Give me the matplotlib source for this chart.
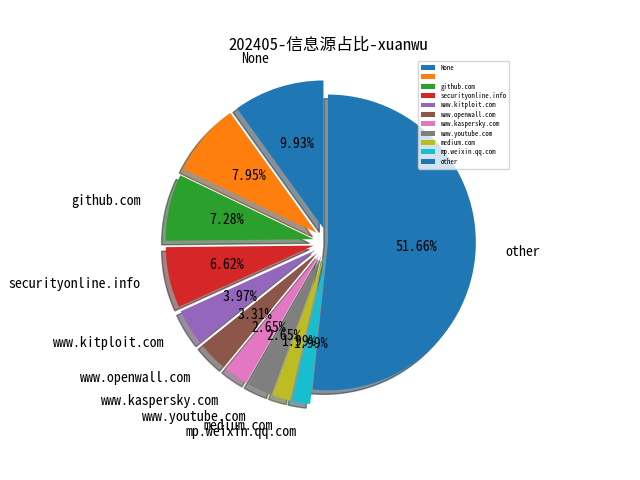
import matplotlib
matplotlib.use("Agg")
import matplotlib.pyplot as plt

plt.rcParams['font.family'] = ['Noto Sans Mono CJK SC', 'Noto Sans CJK SC', 'DejaVu Sans']
plt.rcParams['axes.unicode_minus'] = False

sources = ["None", "", "github.com", "securityonline.info", "www.kitploit.com",
           "www.openwall.com", "www.kaspersky.com", "www.youtube.com",
           "medium.com", "mp.weixin.qq.com", "other"]
counts = [15, 12, 11, 10, 6, 5, 4, 4, 3, 3, 78]
explode = [0.1] * 10 + [0.0]

fig, ax = plt.subplots(figsize=(6.4, 4.8), dpi=100)
ax.pie(counts, labels=sources, explode=explode, autopct='%1.2f%%',
       shadow=True, startangle=90, labeldistance=1.2)
ax.set_title("202405-信息源占比-xuanwu")
ax.legend(sources, loc='upper right', fontsize=5, labelspacing=0.2)
fig.savefig("out.png", dpi=100)
